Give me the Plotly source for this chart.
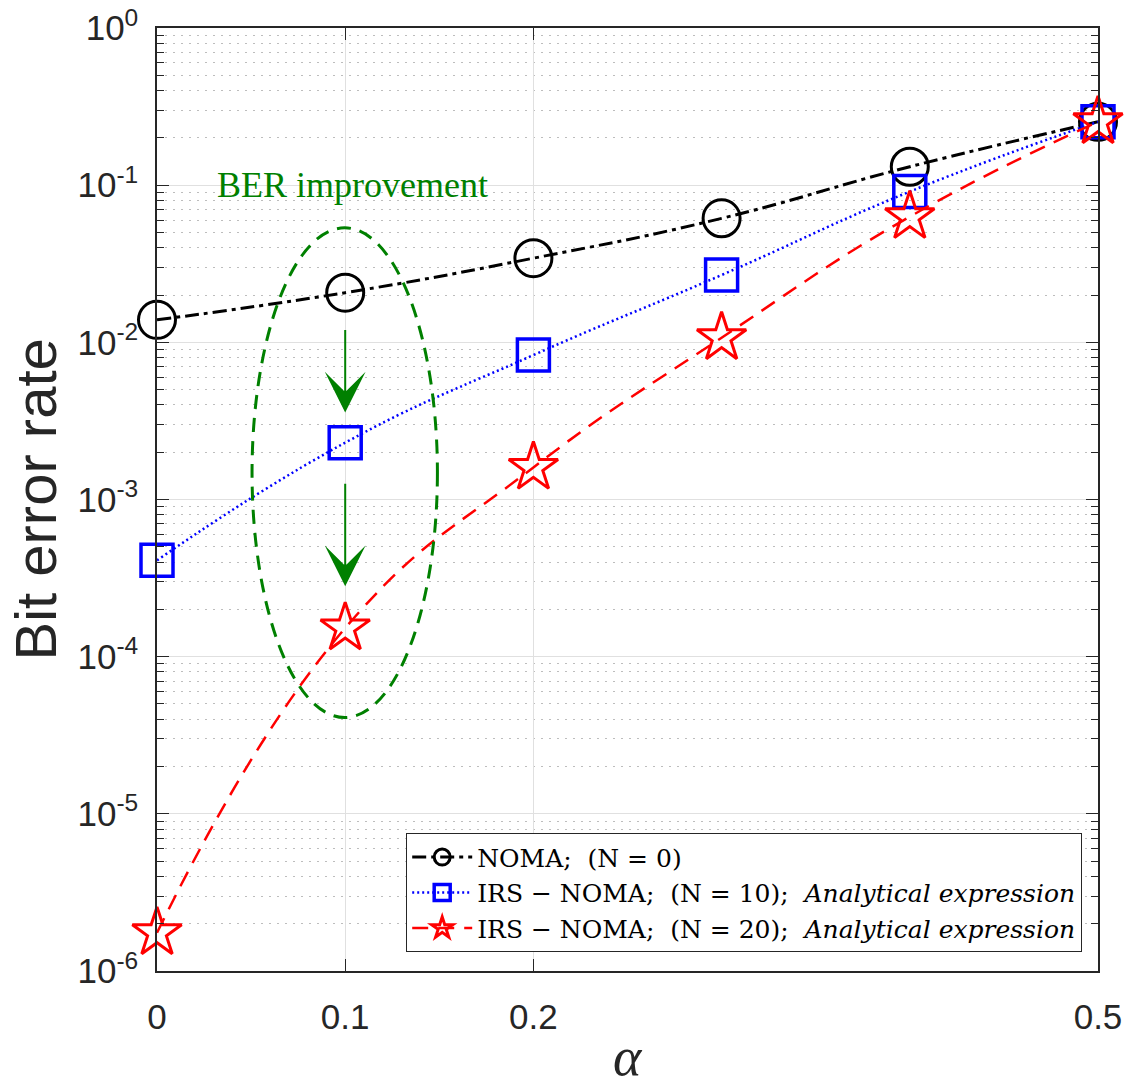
import plotly.graph_objects as go

# ---------------- data ----------------
alpha = [0, 0.1, 0.2, 0.3, 0.4, 0.5]
ber_noma = [0.0139, 0.0207, 0.0343, 0.0615, 0.131, 0.253]
ber_irs10 = [4.1e-4, 2.3e-3, 8.3e-3, 0.0268, 0.091, 0.253]
ber_irs20 = [1.75e-6, 1.52e-4, 1.6e-3, 0.0107, 0.063, 0.253]

series_names = [
    "NOMA;  (N = 0)",
    "IRS − NOMA;  (N = 10);  <i>Analytical expression</i>",
    "IRS − NOMA;  (N = 20);  <i>Analytical expression</i>",
]

x_tick_vals = [0, 0.1, 0.2, 0.5]
x_tick_text = ["0", "0.1", "0.2", "0.5"]
y_tick_exps = [0, -1, -2, -3, -4, -5, -6]
y_tick_vals = [10.0 ** e for e in y_tick_exps]
y_tick_text = ["10<sup>%d</sup>" % e for e in y_tick_exps]

# annotation geometry (ellipse bounds in data units, arrows in log10 units)
ellipse_x = [0.0505, 0.149]
ellipse_y = [4.1e-5, 0.0535]
arrows = [(-1.912, -2.447), (-2.890, -3.552)]

GREEN = "#008000"
TXT = "#262626"
SERIF = "Liberation Serif, Times New Roman, serif"
LEG_SERIF = "DejaVu Serif, Liberation Serif, serif"
SANS = "Liberation Sans, Arial, sans-serif"

fig = go.Figure()

fig.add_trace(go.Scatter(
    x=alpha, y=ber_noma, name=series_names[0], mode="lines+markers",
    line=dict(color="black", width=3, dash="14px,5px,4px,5px", shape="spline", smoothing=1.3),
    marker=dict(symbol="circle-open", size=37, color="black", line=dict(width=3)),
    cliponaxis=False))
fig.add_trace(go.Scatter(
    x=alpha, y=ber_irs10, name=series_names[1], mode="lines+markers",
    line=dict(color="#0000ff", width=2.5, dash="2px,3px", shape="spline", smoothing=1.3),
    marker=dict(symbol="square-open", size=32, color="#0000ff", line=dict(width=3.5)),
    cliponaxis=False))
fig.add_trace(go.Scatter(
    x=alpha, y=ber_irs20, name=series_names[2], mode="lines+markers",
    line=dict(color="#ff0000", width=2.5, dash="16px,10px", shape="spline", smoothing=1.3),
    marker=dict(symbol="star-open", size=37, color="#ff0000", line=dict(width=3)),
    cliponaxis=False))

# ellipse
fig.add_shape(type="circle", xref="x", yref="y",
              x0=ellipse_x[0], x1=ellipse_x[1], y0=ellipse_y[0], y1=ellipse_y[1],
              line=dict(color=GREEN, width=3, dash="14px,9px"), layer="above")

annotations = []
for tail, tip in arrows:
    annotations.append(dict(x=0.1, y=tip, ax=0.1, ay=tail, xref="x", yref="y",
                            axref="x", ayref="y", text="", showarrow=True,
                            arrowhead=3, arrowsize=3.4, arrowwidth=2,
                            arrowcolor=GREEN, standoff=0))
annotations.append(dict(x=0.104, y=-1.0, xref="x", yref="y", text="BER improvement",
                        showarrow=False, xanchor="center", yanchor="middle",
                        font=dict(family=SERIF, size=36, color=GREEN)))
annotations.append(dict(x=0, y=0.5, xref="paper", yref="paper", text="Bit error rate",
                        showarrow=False, textangle=-90, xanchor="center", yanchor="middle",
                        xshift=-122,
                        font=dict(family=SANS, size=58, color=TXT)))
annotations.append(dict(x=0.5, y=0, xref="paper", yref="paper", text="<i>α</i>",
                        showarrow=False, xanchor="center", yanchor="middle",
                        yshift=-86,
                        font=dict(family=SERIF, size=54, color=TXT)))

axis_common = dict(showline=True, linecolor=TXT, linewidth=1.5, mirror="ticks",
                   ticks="inside", tickcolor=TXT, ticklen=12, tickwidth=1.2,
                   tickfont=dict(family=SANS, size=35, color=TXT),
                   zeroline=False, gridcolor="#e0e0e0", gridwidth=1, showgrid=True,
                   automargin=False, ticklabeloverflow="allow")

fig.update_xaxes(range=[0, 0.5], tickmode="array", tickvals=x_tick_vals, ticktext=x_tick_text,
                 ticklabelstandoff=14, **axis_common)
fig.update_yaxes(type="log", range=[-6, 0], tickmode="array", tickvals=y_tick_vals,
                 ticktext=y_tick_text, ticklabelstandoff=10,
                 minor=dict(dtick="D1", ticks="inside", ticklen=7, tickcolor=TXT,
                            showgrid=True, gridcolor="#bdbdbd", griddash="2px,6px", gridwidth=1),
                 **axis_common)

fig.update_layout(
    width=1127, height=1092,
    margin=dict(l=157, r=29, t=28, b=121),
    plot_bgcolor="white", paper_bgcolor="white",
    showlegend=True,
    legend=dict(x=0.983, y=0.02, xanchor="right", yanchor="bottom",
                bgcolor="white", bordercolor=TXT, borderwidth=1.2,
                font=dict(family=LEG_SERIF, size=25, color="black"),
                itemwidth=60, tracegroupgap=0),
    annotations=annotations,
    hovermode=False,
)

# remove the default 8px page margin so the figure fills the window exactly
fig.write_html("out.html", config={"displayModeBar": False},
               post_script="document.body.style.margin='0';")
